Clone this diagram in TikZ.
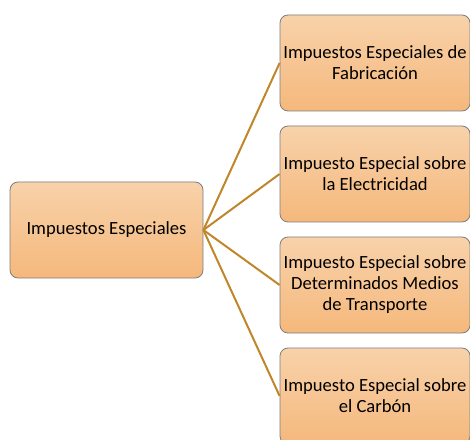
\documentclass[tikz,border=0pt]{standalone}
\usepackage{fontspec}
\setmainfont{Carlito}
\usepackage{tikz}
\usepackage{xcolor}

\definecolor{boxtop}{RGB}{248,210,170}
\definecolor{boxbot}{RGB}{245,184,124}
\definecolor{boxline}{RGB}{125,125,125}
\definecolor{linkcol}{RGB}{192,134,42}

\begin{document}
\begin{tikzpicture}[x=1pt, y=1pt,
    taxbox/.style={draw=boxline, line width=0.8pt, rounded corners=8pt,
        top color=boxtop, bottom color=boxbot, align=center,
        font=\fontsize{18.6}{21}\selectfont, inner sep=1pt},
    link/.style={draw=linkcol, line width=2pt}]
            \useasboundingbox (0,0) rectangle (470,439);

            % Main node (left)
            \node[taxbox, minimum width=193pt, minimum height=96pt] (main) at (106.5, 209) {Impuestos Especiales};

            % Right column
            \node[taxbox, minimum width=190pt, minimum height=96pt] (fab) at (375, 376) {Impuestos Especiales de\\Fabricación};
            \node[taxbox, minimum width=190pt, minimum height=96pt] (elec) at (375, 265) {Impuesto Especial sobre\\la Electricidad};
            \node[taxbox, minimum width=190pt, minimum height=96pt] (trans) at (375, 154) {Impuesto Especial sobre\\Determinados Medios\\de Transporte};
            \node[taxbox, minimum width=190pt, minimum height=96pt] (carb) at (375, 43) {Impuesto Especial sobre\\el Carbón};

            % Links
            \draw[link] (main.east) -- (fab.west);
            \draw[link] (main.east) -- (elec.west);
            \draw[link] (main.east) -- (trans.west);
            \draw[link] (main.east) -- (carb.west);
        \end{tikzpicture}
\end{document}
